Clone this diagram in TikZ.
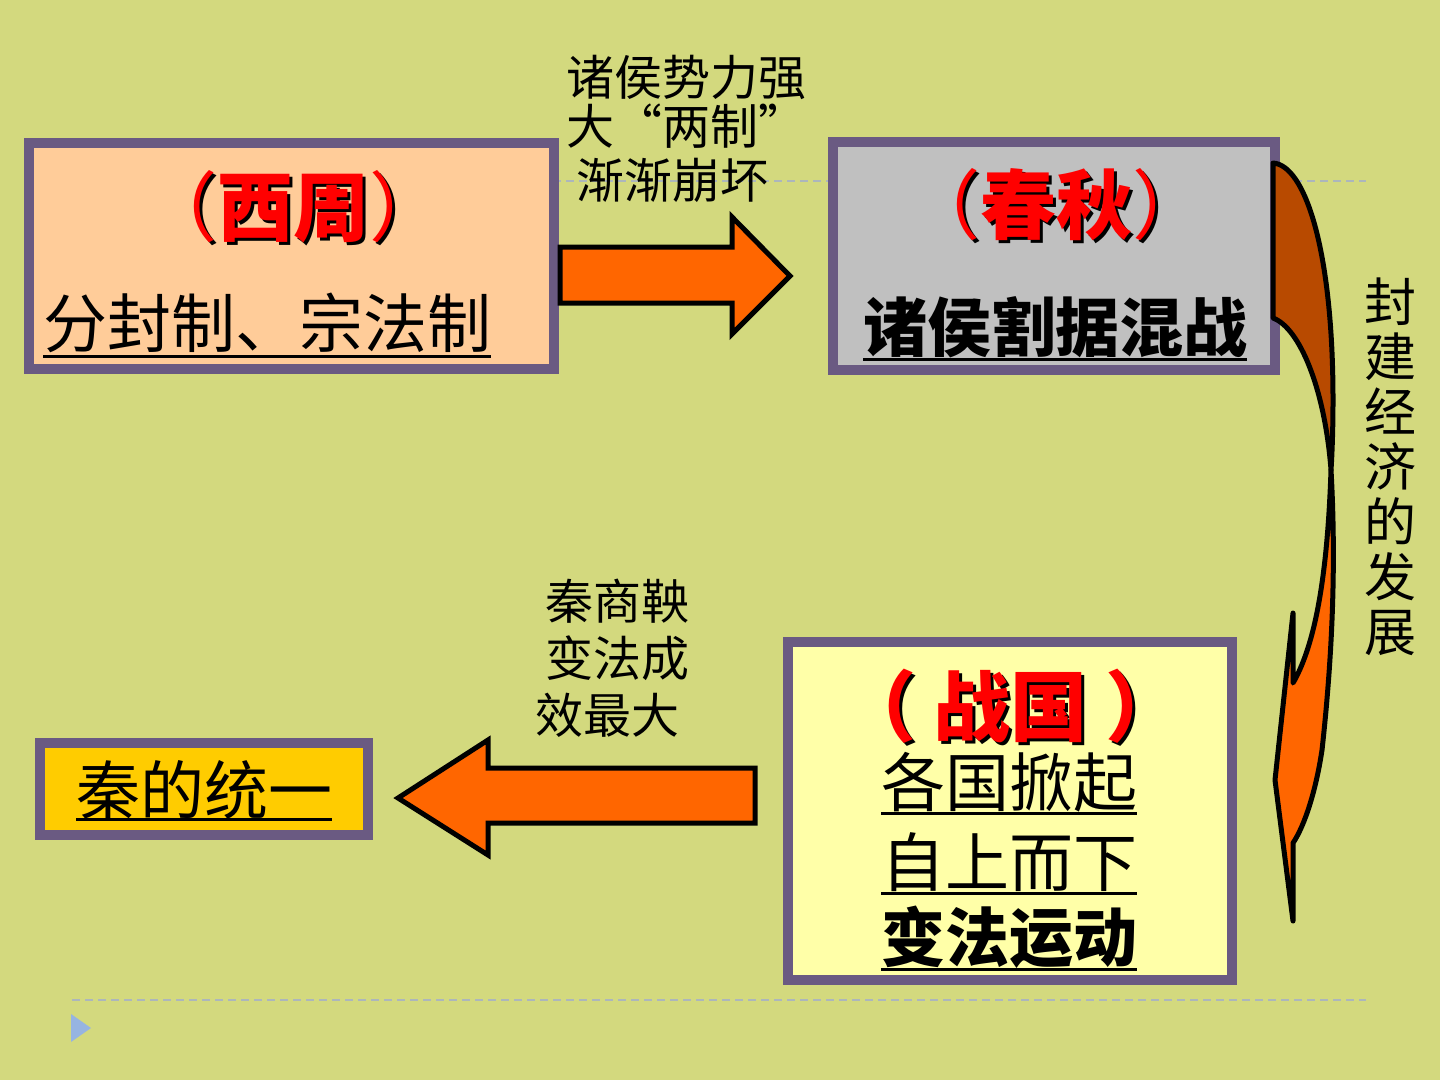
\documentclass[tikz,border=0pt]{standalone}
\usepackage{fontspec}
\newfontfamily\cjk{Noto Sans CJK SC}
\usetikzlibrary{calc}
\definecolor{bg}{RGB}{211,217,126}
\definecolor{frame}{RGB}{106,90,130}
\definecolor{peach}{RGB}{255,204,153}
\definecolor{silver}{RGB}{192,192,192}
\definecolor{paleyellow}{RGB}{255,255,168}
\definecolor{gold}{RGB}{255,204,0}
\definecolor{arroworange}{RGB}{255,102,0}
\definecolor{rust}{RGB}{184,74,0}
\definecolor{dashgray}{RGB}{172,182,188}
\definecolor{bullet}{RGB}{150,180,225}
\newcommand{\fs}[1]{\fontsize{#1}{#1}\selectfont}
\newcommand{\lp}{{\mdseries （}}
\newcommand{\rp}{{\mdseries ）}}
\begin{document}
\begin{tikzpicture}[x=1pt,y=-1pt,
  boxframe/.style={draw=frame,line width=10pt},
  txt/.style={inner sep=0pt,outer sep=0pt,anchor=base,font=\cjk},
  shadowtxt/.style={txt,text=black},
  redtxt/.style={txt,text=red},
  uline/.style={line width=3pt,black},
  blockarrow/.style={fill=arroworange,draw=black,line width=5pt,line join=miter},
  ribbon/.style={draw=black,line width=5pt,line join=round}]
\useasboundingbox (0,0) rectangle (1440,1080);
\fill[bg] (0,0) rectangle (1440,1080);
% decorative dashed lines and bullet
\draw[dashgray,line width=1.5pt,dash pattern=on 8pt off 5pt] (72,181) -- (1366,181);
\draw[dashgray,line width=1.5pt,dash pattern=on 8pt off 5pt] (72,1000) -- (1366,1000);
\fill[bullet] (71,1014) -- (91,1028) -- (71,1042) -- cycle;

% boxes
\draw[boxframe,fill=peach] (29,143) rectangle (554,369);
\draw[boxframe,fill=silver] (833,142) rectangle (1275,370);
\draw[boxframe,fill=paleyellow] (788,642) rectangle (1232,980);
\draw[boxframe,fill=gold] (40,743) rectangle (368,835);

% box 1
\node[shadowtxt,font=\cjk\bfseries\fs{76}] (t1s) at (296,238) {\lp 西周\rp};
\node[redtxt,font=\cjk\bfseries\fs{76}] (t1a) at (293,235) {\lp 西周\rp};
\node[txt,font=\cjk\fs{64}] (t1b) at (267,347) {分封制、宗法制};
\draw[uline] ($(t1b.base west)+(0,9)$) -- ($(t1b.base east)+(0,9)$);

% box 2
\node[shadowtxt,font=\cjk\bfseries\fs{76}] (t2s) at (1059,236) {\lp 春秋\rp};
\node[redtxt,font=\cjk\bfseries\fs{76}] (t2a) at (1056,233) {\lp 春秋\rp};
\node[txt,font=\cjk\bfseries\fs{64}] (t2b) at (1055,351) {诸侯割据混战};
\draw[uline] ($(t2b.base west)+(0,8)$) -- ($(t2b.base east)+(0,8)$);

% box 3
\node[shadowtxt,font=\cjk\bfseries\fs{77}] (t3s) at (1014,738) {（ 战国 ）};
\node[redtxt,font=\cjk\bfseries\fs{77}] (t3a) at (1011,735) {（ 战国 ）};
\node[txt,font=\cjk\fs{64}] (t3b) at (1009,806) {各国掀起};
\draw[uline] ($(t3b.base west)+(0,7)$) -- ($(t3b.base east)+(0,7)$);
\node[txt,font=\cjk\fs{64}] (t3c) at (1009,886) {自上而下};
\draw[uline] ($(t3c.base west)+(0,7)$) -- ($(t3c.base east)+(0,7)$);
\node[txt,font=\cjk\bfseries\fs{64}] (t3d) at (1009,961) {变法运动};
\draw[uline] ($(t3d.base west)+(0,8)$) -- ($(t3d.base east)+(0,8)$);

% box 4
\node[txt,font=\cjk\fs{64}] (t4) at (204,814) {秦的统一};
\draw[uline] ($(t4.base west)+(0,5)$) -- ($(t4.base east)+(0,5)$);

% labels
\node[txt,anchor=base west,font=\cjk\fs{48}] (la1) at (566,95) {诸侯势力强};
\node[txt,anchor=base west,font=\cjk\fs{48}] (la2) at (566,144) {大“两制”};
\node[txt,anchor=base west,font=\cjk\fs{48}] (la3) at (576,198) {渐渐崩坏};
\node[txt,anchor=base west,font=\cjk\fs{48}] (lb1) at (545,619) {秦商鞅};
\node[txt,anchor=base west,font=\cjk\fs{48}] (lb2) at (545,676) {变法成};
\node[txt,anchor=base west,font=\cjk\fs{48}] (lb3) at (535,733) {效最大};
\node[inner sep=0pt,anchor=center,align=center,font=\cjk\fontsize{52}{55}\selectfont] (lv) at (1390,467) {封\\建\\经\\济\\的\\发\\展};

% block arrows
\draw[blockarrow] (560,247) -- (732,247) -- (732,217) -- (790,276) -- (732,334) -- (732,303) -- (560,303) -- cycle;
\draw[blockarrow] (755,768) -- (488,768) -- (488,740) -- (398,798) -- (488,855) -- (488,823) -- (755,823) -- cycle;

% curved ribbon arrow
\draw[ribbon,fill=rust] (1273,163) .. controls (1305,165) and (1333,250) .. (1333,400)
  .. controls (1333,430) and (1332,455) .. (1331,470)
  .. controls (1325,390) and (1300,328) .. (1273,318) -- cycle;
\draw[ribbon,fill=arroworange] (1331,470) .. controls (1336,560) and (1333,650) .. (1322,750)
  .. controls (1316,790) and (1305,825) .. (1293,843) -- (1293,921) -- (1275,780) -- (1293,613) -- (1293,683)
  .. controls (1312,650) and (1327,590) .. (1331,470) -- cycle;
\end{tikzpicture}
\end{document}
